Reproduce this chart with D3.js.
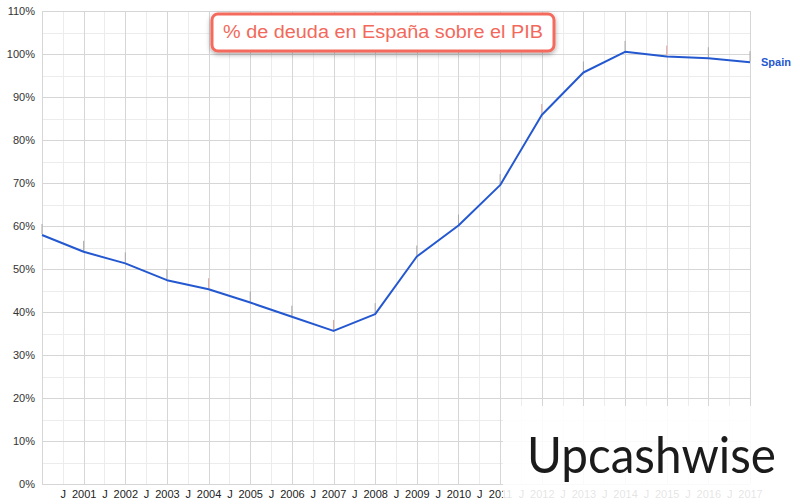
<!DOCTYPE html>
<html>
<head>
  <meta charset="utf-8">
  <style>
    body { margin: 0; background: #fff; }
    svg { font-family: "Liberation Sans", Arial, sans-serif; }
    .grid line { shape-rendering: crispEdges; }
    .grid .domain { display: none; }
  </style>
</head>
<body>
  <script src="https://cdn.jsdelivr.net/npm/d3@7/dist/d3.min.js"></script>
  <script>
    // data
    var years = [2000, 2001, 2002, 2003, 2004, 2005, 2006, 2007, 2008,
                 2009, 2010, 2011, 2012, 2013, 2014, 2015, 2016, 2017];
    var debtPct = [57.9, 54.0, 51.3, 47.4, 45.3, 42.2, 38.9, 35.6, 39.5,
                   52.9, 60.1, 69.5, 85.8, 95.7, 100.5, 99.4, 99.0, 98.1];
    // small marker colour per point (grey or reddish)
    var markFlag = [0, 0, 0, 0, 1, 0, 0, 1, 0, 0, 0, 0, 1, 0, 0, 1, 0, 0];
    var yTicks = [0, 10, 20, 30, 40, 50, 60, 70, 80, 90, 100, 110];
    var yearLabels = years.slice(1);
    var seriesName = "Spain";
    var title = "% de deuda en España sobre el PIB";
    var brand = "Upcashwise";

    var W = 800, H = 504;
    var margin = {top: 11, right: 50, bottom: 20, left: 42};
    var width = W - margin.left - margin.right;   // 708
    var height = H - margin.top - margin.bottom;  // 473

    var xScale = d3.scaleLinear().domain([2000, 2017]).range([0, width]);
    var yScale = d3.scaleLinear().domain([0, 110]).range([height, 0]);

    var svg = d3.select("body").append("svg")
      .attr("width", W).attr("height", H);

    var defs = svg.append("defs");
    var f = defs.append("filter").attr("id", "shadow")
      .attr("x", "-10%").attr("y", "-30%").attr("width", "120%").attr("height", "170%");
    f.append("feDropShadow").attr("dx", 0).attr("dy", 2).attr("stdDeviation", 2.5)
      .attr("flood-color", "#000").attr("flood-opacity", 0.35);

    var g = svg.append("g")
      .attr("transform", "translate(" + margin.left + "," + margin.top + ")");

    // minor grid
    var minorX = [], minorY = [];
    for (var i = 0; i < years.length - 1; i++) minorX.push(years[i] + 0.5);
    for (var j = 0; j < yTicks.length - 1; j++) minorY.push(yTicks[j] + 5);

    g.append("g").attr("class", "grid")
      .attr("transform", "translate(0," + height + ")")
      .call(d3.axisBottom(xScale).tickValues(minorX).tickSize(-height).tickFormat(""))
      .selectAll("line").attr("stroke", "#ececec");
    g.append("g").attr("class", "grid")
      .call(d3.axisLeft(yScale).tickValues(minorY).tickSize(-width).tickFormat(""))
      .selectAll("line").attr("stroke", "#ececec");

    // major grid
    g.append("g").attr("class", "grid")
      .attr("transform", "translate(0," + height + ")")
      .call(d3.axisBottom(xScale).tickValues(years).tickSize(-height).tickFormat(""))
      .selectAll("line").attr("stroke", "#d6d6d6");
    g.append("g").attr("class", "grid")
      .call(d3.axisLeft(yScale).tickValues(yTicks).tickSize(-width).tickFormat(""))
      .selectAll("line").attr("stroke", "#d6d6d6");

    // y labels
    var yAxis = g.append("g")
      .call(d3.axisLeft(yScale).tickValues(yTicks).tickSize(0).tickPadding(7)
        .tickFormat(function(d) { return d + "%"; }));
    yAxis.select(".domain").remove();
    yAxis.selectAll("text").attr("font-size", 11).attr("fill", "#333")
      .attr("font-family", "Liberation Sans, Arial, sans-serif");

    // x labels: J at mid-year, years at Jan
    var xVals = [];
    for (var k = 0; k < minorX.length; k++) { xVals.push(minorX[k]); xVals.push(yearLabels[k]); }
    var xAxis = g.append("g")
      .attr("transform", "translate(0," + height + ")")
      .call(d3.axisBottom(xScale).tickValues(xVals).tickSize(0).tickPadding(6)
        .tickFormat(function(d) { return d % 1 ? "J" : String(d); }));
    xAxis.select(".domain").remove();
    xAxis.selectAll("text").attr("font-size", 11).attr("fill", "#222")
      .attr("font-family", "Liberation Sans, Arial, sans-serif");

    // little marks above points
    g.append("g").selectAll("line")
      .data(years)
      .enter().append("line")
      .attr("x1", function(d) { return xScale(d); })
      .attr("x2", function(d) { return xScale(d); })
      .attr("y1", function(d, i) { return yScale(debtPct[i]) - 1; })
      .attr("y2", function(d, i) { return yScale(debtPct[i]) - 11; })
      .attr("stroke", function(d, i) { return markFlag[i] ? "#e4a7a2" : "#a8a8a8"; })
      .attr("stroke-width", 1);

    // series line
    var line = d3.line()
      .x(function(d, i) { return xScale(years[i]); })
      .y(function(d) { return yScale(d); });
    g.append("path")
      .datum(debtPct)
      .attr("d", line)
      .attr("fill", "none")
      .attr("stroke", "#2458d0")
      .attr("stroke-width", 2)
      .attr("stroke-linejoin", "round");

    g.append("text")
      .attr("x", width + 11)
      .attr("y", yScale(debtPct[debtPct.length - 1]) + 4)
      .attr("font-size", 11).attr("font-weight", "bold")
      .attr("fill", "#2458d0")
      .text(seriesName);

    // title box
    svg.append("rect")
      .attr("x", 212).attr("y", 14).attr("width", 342).attr("height", 37)
      .attr("rx", 6).attr("fill", "#fff")
      .attr("stroke", "#f46a5c").attr("stroke-width", 3)
      .attr("filter", "url(#shadow)");
    svg.append("text")
      .attr("x", 383).attr("y", 38)
      .attr("text-anchor", "middle")
      .attr("font-size", 17.5).attr("fill", "#f2695b")
      .attr("textLength", 320).attr("lengthAdjust", "spacingAndGlyphs")
      .text(title);

    // watermark box and brand
    svg.append("rect")
      .attr("x", 503).attr("y", 406).attr("width", W - 503).attr("height", H - 406)
      .attr("fill", "#fff").attr("opacity", 0.88);
    svg.append("text")
      .attr("x", 527).attr("y", 473)
      .attr("font-family", "Lato, sans-serif").attr("font-size", 51)
      .attr("fill", "#1b1b1b")
      .attr("textLength", 249).attr("lengthAdjust", "spacingAndGlyphs")
      .text(brand);
  </script>
</body>
</html>
